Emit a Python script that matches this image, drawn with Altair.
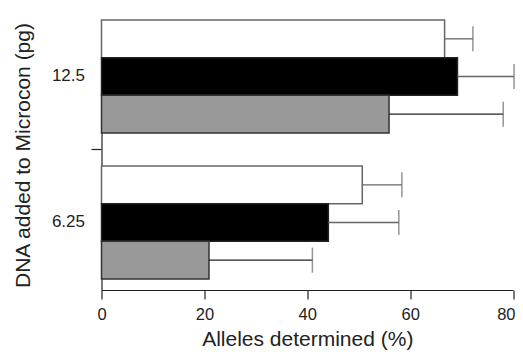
import altair as alt
import pandas as pd

doses = ["12.5", "6.25"]
series = ["Series 1", "Series 2", "Series 3"]
values_12_5 = [66.7, 69.2, 55.9]
values_6_25 = [50.7, 44.1, 20.9]
err_12_5 = [5.5, 11.0, 22.2]
err_6_25 = [7.7, 13.7, 20.1]

fills = ["#ffffff", "#000000", "#999999"]
strokes = ["#666666", "#222222", "#333333"]
err_colors = ["#666666", "#666666", "#222222"]

rows = []
for d, vals, errs in [(doses[0], values_12_5, err_12_5), (doses[1], values_6_25, err_6_25)]:
    for s, v, e in zip(series, vals, errs):
        rows.append({"dose": d, "series": s, "value": v, "upper": v + e})
df = pd.DataFrame(rows)

FONT = "Liberation Sans"

yscale = alt.Scale(domain=doses, paddingInner=0.226, paddingOuter=0.0377, align=0)
yoff = alt.YOffset("series:N", sort=series, scale=alt.Scale(domain=series, paddingInner=0, paddingOuter=0))
xscale = alt.Scale(domain=[0, 80], nice=False)

base = alt.Chart(df)

bars = base.mark_bar(strokeWidth=1.5).encode(
    x=alt.X("value:Q", scale=xscale,
            axis=alt.Axis(values=[0, 20, 40, 60, 80], title="Alleles determined (%)",
                          grid=False, tickSize=9, labelPadding=7, titlePadding=6,
                          domainColor="#222222", tickColor="#222222", domainWidth=1.2, tickWidth=1.2,
                          labelFontSize=16.5, titleFontSize=21, labelColor="#222222", titleColor="#222222",
                          titleFontWeight="normal", labelFont=FONT, titleFont=FONT, labelFlush=False,
                          labelAlign=alt.expr("datum.value == 80 ? 'right' : 'center'"),
                          labelOffset=alt.expr("datum.value == 80 ? 2 : 0"))),
    y=alt.Y("dose:N", sort=doses, scale=yscale,
            axis=alt.Axis(title="DNA added to Microcon (pg)", ticks=False, tickSize=0, labelPadding=17,
                          titlePadding=18, domainColor="#222222", domainWidth=1.2,
                          labelFontSize=17, titleFontSize=21, labelColor="#222222", titleColor="#222222",
                          titleFontWeight="normal", labelFont=FONT, titleFont=FONT)),
    yOffset=yoff,
    fill=alt.Fill("series:N", scale=alt.Scale(domain=series, range=fills), legend=None),
    stroke=alt.Stroke("series:N", scale=alt.Scale(domain=series, range=strokes), legend=None),
)

err_lines = base.mark_rule(strokeWidth=1.3).encode(
    x=alt.X("value:Q", scale=xscale),
    x2="upper:Q",
    y=alt.Y("dose:N", sort=doses, scale=yscale),
    yOffset=yoff,
    color=alt.Color("series:N", scale=alt.Scale(domain=series, range=err_colors), legend=None),
)

caps = base.mark_tick(size=25, thickness=1.5, color="#666666").encode(
    x=alt.X("upper:Q", scale=xscale),
    y=alt.Y("dose:N", sort=doses, scale=yscale),
    yOffset=yoff,
)

mid_df = pd.DataFrame({"dose": [doses[0]]})
mid_tick = alt.Chart(mid_df).mark_rule(color="#222222", strokeWidth=1.2, yOffset=16.5).encode(
    y=alt.Y("dose:N", sort=doses, scale=yscale, bandPosition=1),
    x=alt.value(-10),
    x2=alt.value(0),
)

chart = alt.layer(bars, err_lines, caps, mid_tick).properties(
    width=411.5, height=270,
    autosize=alt.AutoSizeParams(type="none"),
    padding={"left": 93.5, "top": 12, "right": 2, "bottom": 62},
).configure_view(stroke=None)

chart.save("out.html", embed_options={"renderer": "svg", "actions": False})
